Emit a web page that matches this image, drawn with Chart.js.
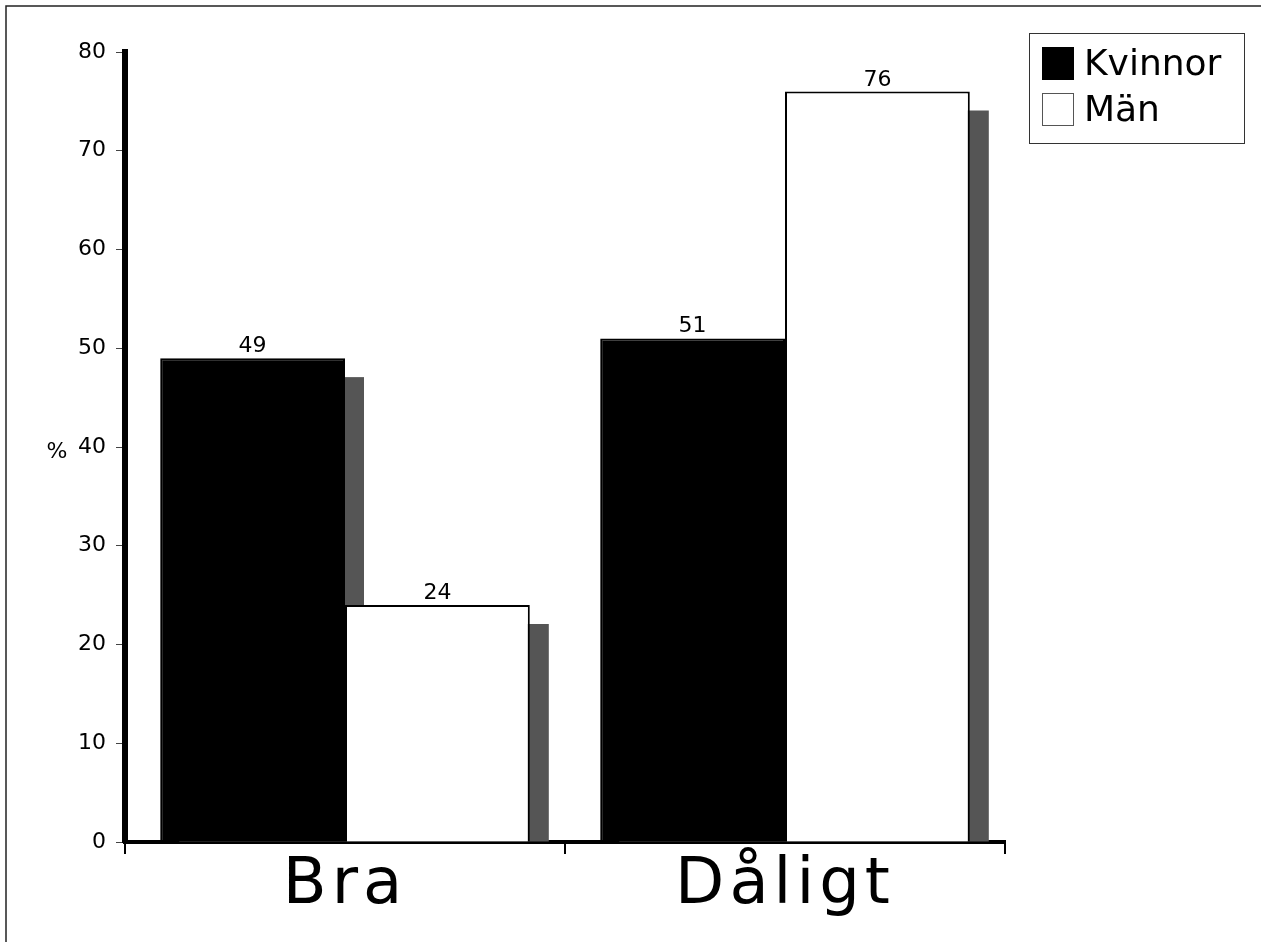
<!DOCTYPE html>
<html>
<head>
<meta charset="utf-8">
<script src="https://cdn.jsdelivr.net/npm/chart.js@4/dist/chart.umd.min.js"></script>
<style>
html,body{margin:0;padding:0;background:#fff;}
#wrap{width:1261px;height:942px;}
</style>
</head>
<body>
<div id="wrap"><canvas id="c" width="1261" height="942"></canvas></div>
<script>
const categories = ['Bra', 'Dåligt'];
const kvinnor = [49, 51];
const man = [24, 76];
const seriesNames = ['Kvinnor', 'Män'];
const yMin = 0, yMax = 80, yStep = 10;
const yUnit = '%';

const FONT = "'DejaVu Sans', sans-serif";

// Category axis whose labels are drawn with wider letter spacing
class SpacedCategory extends Chart.CategoryScale {
  drawLabels(area) {
    const c = this.ctx;
    c.save();
    try { c.letterSpacing = '5px'; } catch (e) {}
    super.drawLabels(area);
    c.restore();
  }
}
SpacedCategory.id = 'spacedCategory';
SpacedCategory.defaults = Chart.CategoryScale.defaults;
Chart.register(SpacedCategory);

const framePlugin = {
  id: 'frame',
  beforeDraw(chart) {
    const c = chart.ctx;
    c.save();
    c.fillStyle = '#fff';
    c.fillRect(0, 0, chart.width, chart.height);
    c.strokeStyle = '#222';
    c.lineWidth = 1.5;
    c.beginPath();
    c.moveTo(6, chart.height);
    c.lineTo(6, 6);
    c.lineTo(chart.width, 6);
    c.stroke();
    c.restore();
  }
};

const shadowPlugin = {
  id: 'shadow',
  beforeDatasetsDraw(chart) {
    const c = chart.ctx;
    const dx = 19, dy = 19;
    c.save();
    c.fillStyle = '#555555';
    chart.data.datasets.forEach((ds, i) => {
      const meta = chart.getDatasetMeta(i);
      meta.data.forEach(bar => {
        const p = bar.getProps(['x', 'y', 'base', 'width'], true);
        const left = p.x - p.width / 2 + dx;
        const top = p.y + dy;
        if (p.base > top) c.fillRect(left, top, p.width, p.base - top);
      });
    });
    c.restore();
  }
};

const labelPlugin = {
  id: 'vlabels',
  afterDatasetsDraw(chart) {
    const c = chart.ctx;
    c.save();
    c.fillStyle = '#000';
    c.font = '22px ' + FONT;
    c.textAlign = 'center';
    c.textBaseline = 'alphabetic';
    chart.data.datasets.forEach((ds, i) => {
      const meta = chart.getDatasetMeta(i);
      meta.data.forEach((bar, j) => {
        const p = bar.getProps(['x', 'y'], true);
        c.fillText(String(ds.data[j]), p.x, p.y - 6);
      });
    });
    c.restore();
  }
};

const extrasPlugin = {
  id: 'extras',
  afterDraw(chart) {
    const c = chart.ctx;
    c.save();
    // unit label
    const ys = chart.scales.y;
    c.fillStyle = '#000';
    c.font = '22px ' + FONT;
    c.textAlign = 'center';
    c.textBaseline = 'middle';
    c.fillText(yUnit, 57, (ys.top + ys.bottom) / 2 + 5);
    // legend
    const lx = 1029, ly = 33, lw = 215, lh = 110;
    c.strokeStyle = '#333';
    c.lineWidth = 1;
    c.strokeRect(lx + 0.5, ly + 0.5, lw, lh);
    c.font = '36px ' + FONT;
    c.textAlign = 'left';
    chart.data.datasets.forEach((ds, i) => {
      const by = 47 + i * 46;
      c.fillStyle = ds.backgroundColor;
      c.fillRect(1042, by, 32, 33);
      c.strokeStyle = i === 0 ? '#000' : '#555';
      c.lineWidth = 1;
      c.strokeRect(1042.5, by + 0.5, 31, 32);
      c.fillStyle = '#000';
      c.fillText(ds.label, 1084, by + 19);
    });
    c.restore();
  }
};

new Chart(document.getElementById('c'), {
  type: 'bar',
  data: {
    labels: categories,
    datasets: [
      { label: seriesNames[0], data: kvinnor, backgroundColor: '#000000', borderColor: '#000000', borderWidth: 2 },
      { label: seriesNames[1], data: man, backgroundColor: '#ffffff', borderColor: '#000000', borderWidth: 2 }
    ]
  },
  options: {
    responsive: false,
    animation: false,
    devicePixelRatio: 1,
    categoryPercentage: 0.84,
    barPercentage: 1.0,
    layout: { padding: { left: 0, top: 52, right: 256, bottom: 0 } },
    plugins: {
      legend: { display: false },
      tooltip: { enabled: false },
      title: { display: false }
    },
    scales: {
      x: {
        type: 'spacedCategory',
        z: 1,
        offset: true,
        border: { display: true, color: '#000', width: 4 },
        grid: {
          offset: true,
          drawOnChartArea: false,
          drawTicks: true,
          tickLength: 12,
          lineWidth: 2,
          tickColor: (ctx) => (ctx.index >= 2 ? 'rgba(0,0,0,0)' : '#000')
        },
        ticks: { color: '#000', font: { family: FONT, size: 64 }, padding: -6, maxRotation: 0 },
        afterFit(s) { s.height = 100; }
      },
      y: {
        min: yMin, max: yMax,
        border: { display: true, color: '#000', width: 6 },
        grid: { drawOnChartArea: false, drawTicks: true, tickLength: 9, tickColor: '#444', lineWidth: 1 },
        ticks: { stepSize: yStep, color: '#000', font: { family: FONT, size: 22 }, padding: 10 },
        afterFit(s) { s.width = 125; }
      }
    }
  },
  plugins: [framePlugin, shadowPlugin, labelPlugin, extrasPlugin]
});
</script>
</body>
</html>
